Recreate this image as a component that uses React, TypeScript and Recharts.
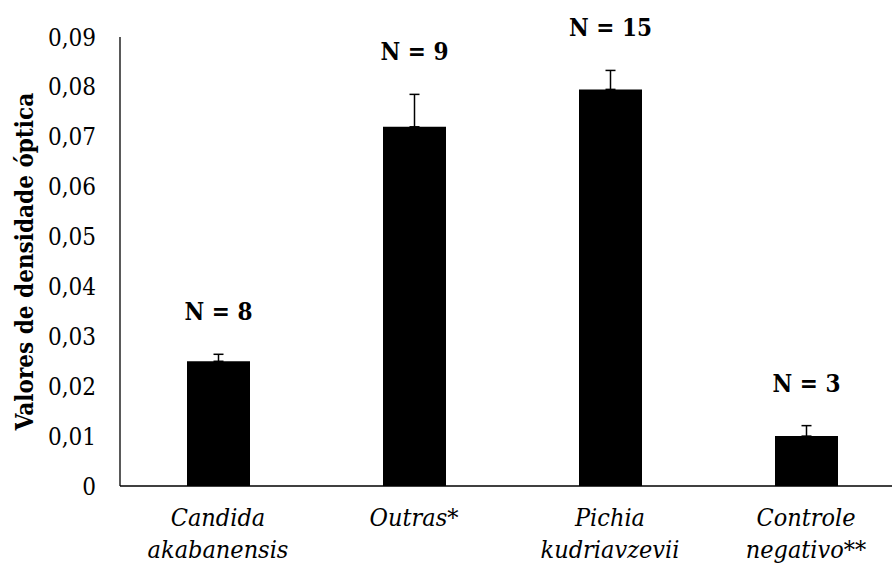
import { BarChart, Bar, XAxis, YAxis, ErrorBar, LabelList } from 'recharts';

const categories = ['Candida akabanensis', 'Outras*', 'Pichia kudriavzevii', 'Controle negativo**'];
const categoryLines = [['Candida', 'akabanensis'], ['Outras*'], ['Pichia', 'kudriavzevii'], ['Controle', 'negativo**']];
const opticalDensity = [0.025, 0.072, 0.0795, 0.01];
const stdError = [0.0014, 0.0065, 0.0038, 0.0021];
const sampleSizes = [8, 9, 15, 3];
const yTicks = [0, 0.01, 0.02, 0.03, 0.04, 0.05, 0.06, 0.07, 0.08, 0.09];

const data = categories.map((name, i) => ({
  name,
  value: opticalDensity[i],
  err: [0, stdError[i]],
  n: `N = ${sampleSizes[i]}`,
}));

// only serif face found in the sandbox
const FONT = "'DejaVu Serif', serif";
const base = { fontFamily: FONT, fontStretch: 'condensed' as const };

const formatTick = (v: number) => (v === 0 ? '0' : v.toFixed(2).replace('.', ','));

const CategoryTick = (props: any) => {
  const { x, y, index } = props;
  const lines = categoryLines[index] || [];
  return (
    <g>
      {lines.map((line, i) => (
        <text
          key={i}
          x={x}
          y={y + 40 + i * 32}
          textAnchor="middle"
          style={{ ...base, fontStyle: 'italic', fontSize: 25 }}
          fill="#000"
        >
          {line}
        </text>
      ))}
    </g>
  );
};

const NLabel = (props: any) => {
  const { x, y, width, height, index, value } = props;
  const pxPerUnit = height / opticalDensity[index];
  const errTop = y - stdError[index] * pxPerUnit;
  return (
    <text
      x={x + width / 2}
      y={errTop - 43 + 9}
      textAnchor="middle"
      style={{ ...base, fontWeight: 'bold', fontSize: 24 }}
      fill="#000"
    >
      {value}
    </text>
  );
};

const YTitle = (props: any) => {
  const { viewBox } = props;
  const cx = 33;
  const cy = viewBox.y + viewBox.height / 2;
  return (
    <text
      x={cx}
      y={cy}
      transform={`rotate(-90, ${cx}, ${cy})`}
      textAnchor="middle"
      style={{ ...base, fontWeight: 'bold', fontSize: 24 }}
      fill="#000"
    >
      Valores de densidade óptica
    </text>
  );
};

export default function App() {
  return (
    <div style={{ position: 'fixed', left: 0, top: 0, width: 892, height: 563, overflow: 'hidden', background: '#fff' }}>
      <BarChart width={904} height={563} data={data} margin={{ top: 37, right: 0, bottom: 0, left: 0 }}>
        <XAxis
          dataKey="name"
          height={77}
          tickLine={false}
          tickSize={0}
          tickMargin={0}
          interval={0}
          axisLine={{ stroke: '#000', strokeWidth: 1.3 }}
          tick={<CategoryTick />}
        />
        <YAxis
          width={120}
          domain={[0, 0.09]}
          ticks={yTicks}
          interval={0}
          tickFormatter={formatTick}
          tickLine={false}
          tickSize={0}
          tickMargin={24}
          axisLine={{ stroke: '#000', strokeWidth: 1.3 }}
          tick={{ fill: '#000', fontSize: 24, style: base }}
          label={<YTitle />}
        />
        <Bar dataKey="value" fill="#000" barSize={63} isAnimationActive={false}>
          <ErrorBar dataKey="err" direction="y" width={5} stroke="#000" strokeWidth={1.5} />
          <LabelList dataKey="n" content={<NLabel />} />
        </Bar>
      </BarChart>
    </div>
  );
}
